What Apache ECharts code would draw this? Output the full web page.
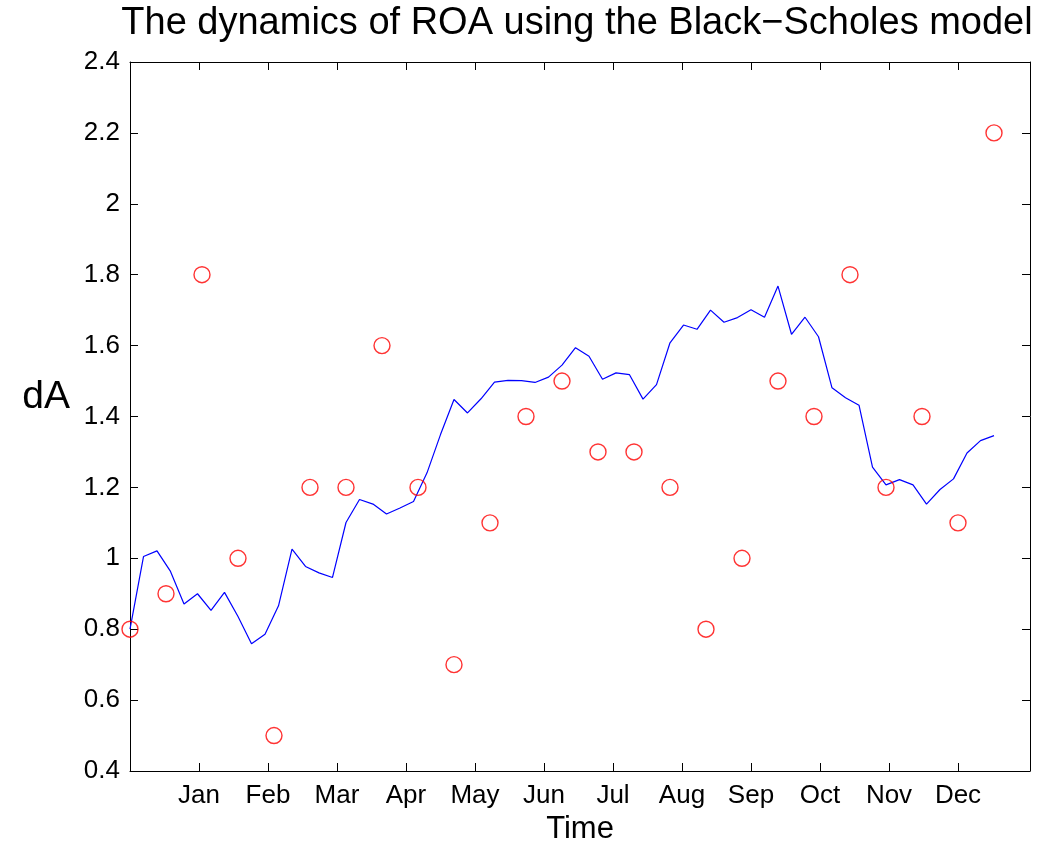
<!DOCTYPE html>
<html>
<head>
<meta charset="utf-8">
<script src="https://cdn.jsdelivr.net/npm/echarts@6/dist/echarts.min.js"></script>
<style>html,body{margin:0;padding:0;background:#fff}#c{width:1051px;height:850px}</style>
</head>
<body>
<div id="c"></div>
<script>
var months = ['Jan','Feb','Mar','Apr','May','Jun','Jul','Aug','Sep','Oct','Nov','Dec'];
var yTicks = [0.4,0.6,0.8,1,1.2,1.4,1.6,1.8,2,2.2,2.4];
// observed values (red circles), one per time step 0..24
var observed = [0.8,0.9,1.8,1.0,0.5,1.2,1.2,1.6,1.2,0.7,1.1,1.4,1.5,1.3,1.3,1.2,0.8,1.0,1.5,1.4,1.8,1.2,1.4,1.1,2.2];
// model line (blue), 65 samples spanning steps 0..24
var model = [0.80,1.005,1.021,0.963,0.871,0.900,0.853,0.904,0.836,0.759,0.786,0.866,1.026,0.977,0.959,0.946,
  1.101,1.166,1.153,1.125,1.142,1.160,1.241,1.349,1.448,1.410,1.450,1.497,1.502,1.501,1.496,1.511,
  1.545,1.594,1.570,1.505,1.523,1.518,1.449,1.490,1.608,1.658,1.646,1.700,1.666,1.679,1.701,1.680,
  1.768,1.632,1.680,1.625,1.481,1.453,1.432,1.257,1.207,1.222,1.207,1.153,1.194,1.224,1.297,1.332,1.346];

var nSteps = observed.length - 1; // 24
var xMax = nSteps + 1;            // 25
var monthStep = (nSteps - 1) / months.length; // 23/12
var monthPos = months.map(function(m, k){ return (k + 1) * monthStep; });

var lineData = model.map(function(v, i){ return [i * nSteps / (model.length - 1), v]; });
var scatterData = observed.map(function(v, i){ return [i, v]; });

var FONT = 'Liberation Sans, Arial, Helvetica, sans-serif';
var axisLine = {show:true, onZero:false, lineStyle:{color:'#000', width:1}};

var chart = echarts.init(document.getElementById('c'), null, {renderer:'canvas'});
chart.setOption({
  backgroundColor:'#fff',
  animation:false,
  title:{
    text:'The dynamics of ROA using the Black\u2212Scholes model',
    left:572, top:0, textAlign:'center',
    textStyle:{fontFamily:FONT, fontSize:38, fontWeight:'normal', color:'#000'}
  },
  grid:{left:130, right:21, top:62, bottom:79, containLabel:false},
  xAxis:[{
    type:'value', min:0, max:xMax, position:'bottom',
    name:'Time', nameLocation:'middle', nameGap:43,
    nameTextStyle:{fontFamily:FONT, fontSize:31, color:'#000'},
    axisLine:axisLine,
    axisTick:{show:true, inside:true, length:8, customValues:monthPos, lineStyle:{color:'#000'}},
    axisLabel:{show:true, customValues:monthPos, margin:12, fontFamily:FONT, fontSize:26, color:'#000',
      formatter:function(v){ var k = Math.round(v / monthStep) - 1; return months[k] || ''; }},
    splitLine:{show:false}
  },{
    type:'value', min:0, max:xMax, position:'top',
    axisLine:axisLine,
    axisTick:{show:true, inside:true, length:8, customValues:monthPos, lineStyle:{color:'#000'}},
    axisLabel:{show:false}, splitLine:{show:false}
  }],
  yAxis:[{
    type:'value', min:0.4, max:2.4, interval:0.2, position:'left',
    name:'dA', nameLocation:'middle', nameRotate:0, nameGap:60,
    nameTextStyle:{fontFamily:FONT, fontSize:39, color:'#000', verticalAlign:'bottom'},
    axisLine:axisLine,
    axisTick:{show:true, inside:true, length:8, lineStyle:{color:'#000'}},
    axisLabel:{show:true, margin:10, fontFamily:FONT, fontSize:26, color:'#000',
      formatter:function(v){ return String(Math.round(v*10)/10); }},
    splitLine:{show:false}
  },{
    type:'value', min:0.4, max:2.4, interval:0.2, position:'right',
    axisLine:axisLine,
    axisTick:{show:true, inside:true, length:8, lineStyle:{color:'#000'}},
    axisLabel:{show:false}, splitLine:{show:false}
  }],
  series:[{
    type:'line', xAxisIndex:0, yAxisIndex:0, data:lineData,
    showSymbol:false, symbol:'none',
    lineStyle:{color:'#0000ff', width:1.2}, z:2
  },{
    type:'scatter', xAxisIndex:0, yAxisIndex:0, data:scatterData,
    symbol:'circle', symbolSize:16,
    itemStyle:{color:'rgba(255,255,255,0)', borderColor:'#ff0000', borderWidth:1.4}, z:3
  }]
});
</script>
</body>
</html>
